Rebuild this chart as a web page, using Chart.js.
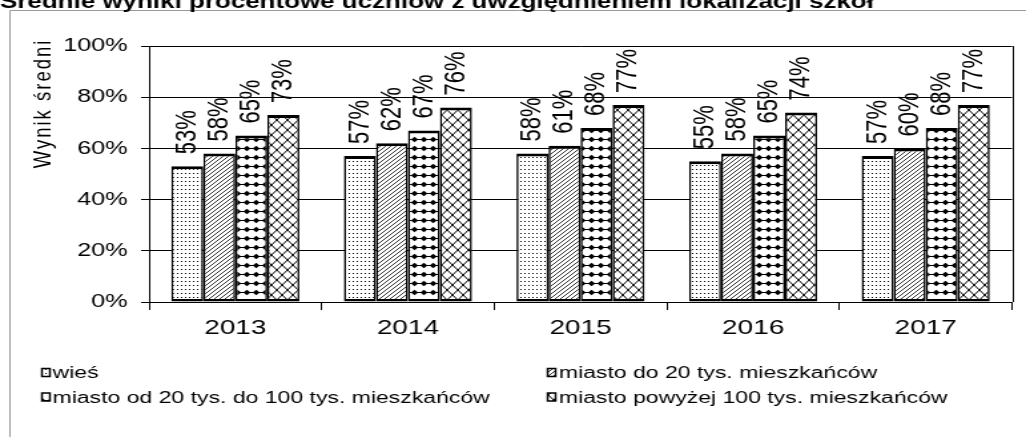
<!DOCTYPE html>
<html>
<head>
<meta charset="utf-8">
<script src="https://cdn.jsdelivr.net/npm/chart.js@4.4.0/dist/chart.umd.min.js"></script>
<style>
  html, body { margin: 0; padding: 0; background: #fff; overflow: hidden; }
  /* the source picture is stretched sideways, so draw narrow and widen */
  #chart { display: block; width: 1026px !important; height: 437px !important; }
</style>
</head>
<body>
<canvas id="chart" width="771" height="437"></canvas>
<script>
const years = ["2013", "2014", "2015", "2016", "2017"];
const wies = [53, 57, 58, 55, 57];
const miastoDo20 = [58, 62, 61, 58, 60];
const miasto20do100 = [65, 67, 68, 65, 68];
const miastoPow100 = [73, 76, 77, 74, 77];
const seriesNames = [
  "wieś",
  "miasto do 20 tys. mieszkańców",
  "miasto od 20 tys. do 100 tys. mieszkańców",
  "miasto powyżej 100 tys. mieszkańców",
];

const FONT = "'Liberation Sans', Arial, sans-serif";

function makePattern(kind) {
  const c = document.createElement("canvas");
  const sizes = { dots: [3, 4], diag: [4, 4], diamonds: [7, 9], cross: [8, 10] };
  c.width = sizes[kind][0];
  c.height = sizes[kind][1];
  const g = c.getContext("2d");
  g.fillStyle = "#fff";
  g.fillRect(0, 0, c.width, c.height);
  g.fillStyle = "#000";
  g.strokeStyle = "#000";
  if (kind === "dots") {
    g.fillRect(1, 1, 1, 1);
  } else if (kind === "diag") {
    g.lineWidth = 0.8;
    g.beginPath();
    g.moveTo(0, 4); g.lineTo(4, 0);
    g.moveTo(-1, 1); g.lineTo(1, -1);
    g.moveTo(3, 5); g.lineTo(5, 3);
    g.stroke();
  } else if (kind === "diamonds") {
    g.lineWidth = 1;
    g.beginPath();
    g.moveTo(0, 4.5); g.lineTo(7, 4.5);
    g.stroke();
    g.beginPath();
    g.moveTo(3.5, 1.8); g.lineTo(6.2, 4.5); g.lineTo(3.5, 7.2); g.lineTo(0.8, 4.5);
    g.closePath();
    g.fill();
  } else if (kind === "cross") {
    g.lineWidth = 1;
    g.beginPath();
    g.moveTo(0, 0); g.lineTo(8, 10);
    g.moveTo(8, 0); g.lineTo(0, 10);
    g.stroke();
  }
  return g.createPattern(c, "repeat");
}

const fills = [makePattern("dots"), makePattern("diag"), makePattern("diamonds"), makePattern("cross")];

const decor = {
  id: "decor",
  afterDatasetsDraw(chart) {
    const ctx = chart.ctx;
    ctx.save();
    ctx.fillStyle = "#000";
    ctx.font = "22px " + FONT;
    ctx.textAlign = "left";
    ctx.textBaseline = "middle";
    chart.data.datasets.forEach((ds, i) => {
      chart.getDatasetMeta(i).data.forEach((bar, j) => {
        ctx.save();
        ctx.translate(bar.x, bar.y - 12);
        ctx.rotate(-Math.PI / 2);
        ctx.fillText(ds.data[j] + "%", 0, 0);
        ctx.restore();
      });
    });
    ctx.restore();
  },
  afterDraw(chart) {
    const ctx = chart.ctx;
    const area = chart.chartArea;
    ctx.save();
    // outer frame
    ctx.strokeStyle = "#999";
    ctx.lineWidth = 1;
    ctx.beginPath();
    ctx.moveTo(7.5, 437);
    ctx.lineTo(7.5, 10.5);
    ctx.lineTo(771, 10.5);
    ctx.stroke();
    // right edge of plot
    ctx.strokeStyle = "#000";
    ctx.beginPath();
    ctx.moveTo(Math.round(area.right) + 0.5, area.top);
    ctx.lineTo(Math.round(area.right) + 0.5, area.bottom);
    ctx.stroke();
    // title (cut at top like the source)
    ctx.fillStyle = "#000";
    ctx.font = "bold 19.5px " + FONT;
    ctx.textAlign = "left";
    ctx.textBaseline = "alphabetic";
    ctx.fillText("Średnie wyniki procentowe uczniów z uwzględnieniem lokalizacji szkół", 0, 8);
    // y title
    ctx.save();
    ctx.translate(32.5, 103.5);
    ctx.rotate(-Math.PI / 2);
    ctx.font = "18.5px " + FONT;
    ctx.letterSpacing = "2px";
    ctx.textAlign = "center";
    ctx.textBaseline = "middle";
    ctx.fillText("Wynik średni", 0, 0);
    ctx.restore();
    // legend
    const boxX = [31.5, 411.5];
    const textX = [39.5, 420];
    const rowY = [372.5, 397];
    ctx.font = "17.3px " + FONT;
    ctx.textBaseline = "middle";
    chart.data.datasets.forEach((ds, i) => {
      const col = i % 2;
      const row = Math.floor(i / 2);
      ctx.fillStyle = ds.backgroundColor;
      ctx.fillRect(boxX[col], rowY[row] - 4, 6, 8);
      ctx.strokeStyle = "#000";
      ctx.lineWidth = 1.5;
      ctx.strokeRect(boxX[col], rowY[row] - 4, 6, 8);
      ctx.fillStyle = "#000";
      ctx.fillText(ds.label, textX[col], rowY[row] + 1);
    });
    ctx.restore();
  },
};

const ctx = document.getElementById("chart").getContext("2d");
const chart = new Chart(ctx, {
  type: "bar",
  data: {
    labels: years,
    datasets: [
      { label: seriesNames[0], data: wies, backgroundColor: fills[0] },
      { label: seriesNames[1], data: miastoDo20, backgroundColor: fills[1] },
      { label: seriesNames[2], data: miasto20do100, backgroundColor: fills[2] },
      { label: seriesNames[3], data: miastoPow100, backgroundColor: fills[3] },
    ],
  },
  options: {
    responsive: false,
    animation: false,
    devicePixelRatio: 1,
    layout: { padding: { top: 46, right: 10.5, bottom: 0, left: 0 } },
    datasets: {
      bar: {
        categoryPercentage: 0.742,
        barPercentage: 1,
        borderColor: "#000",
        borderWidth: { top: 3, bottom: 2.5, left: 1.6, right: 1.6 },
        borderSkipped: false,
      },
    },
    scales: {
      y: {
        min: 0,
        max: 100,
        ticks: {
          stepSize: 20,
          color: "#000",
          padding: 10,
          font: { family: FONT, size: 19 },
          callback: (v) => v + "%",
        },
        grid: { color: "#000", lineWidth: 1, tickLength: 6 },
        border: { display: true, color: "#000", width: 1 },
        afterFit(scale) {
          scale.width = 112;
        },
      },
      x: {
        ticks: { color: "#000", padding: 6, font: { family: FONT, size: 21 } },
        grid: { offset: true, drawOnChartArea: false, tickLength: 8, color: "#000" },
        border: { display: true, color: "#000", width: 1 },
        afterFit(scale) {
          scale.height = 135;
        },
      },
    },
    plugins: {
      legend: { display: false },
      tooltip: { enabled: false },
      title: { display: false },
    },
  },
  plugins: [decor],
});
</script>
</body>
</html>
